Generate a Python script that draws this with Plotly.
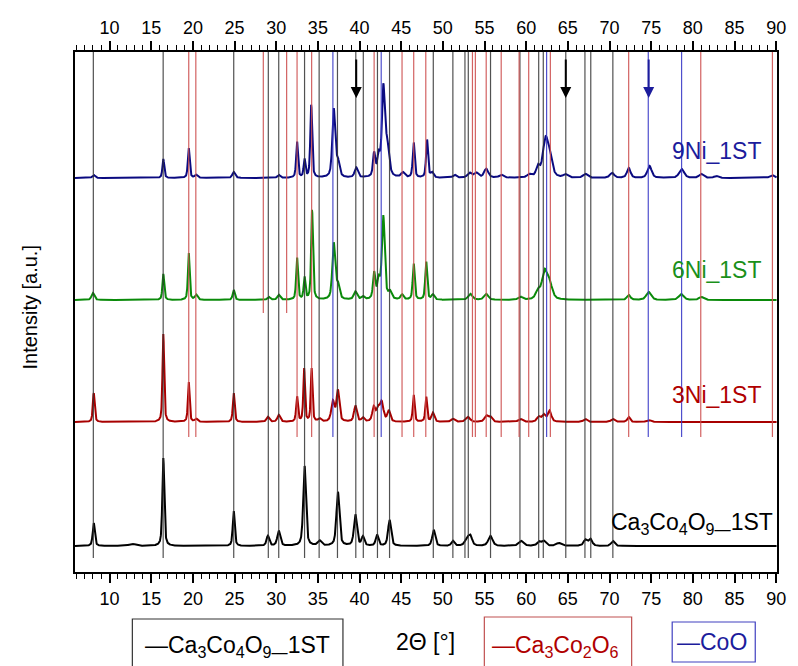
import numpy as np
import plotly.graph_objects as go

# ---------------- data ----------------
x_range = [5.85, 90.1]

# reference (PDF) line positions, 2-theta
ref_ca3co4o9 = [8.05, 16.43, 24.9, 29.05, 30.3, 33.4, 35.15, 37.35, 39.55, 40.45, 42.15, 43.6,
                48.85, 51.2, 52.65, 53.05, 55.72, 59.25, 61.5, 62.05, 64.75, 67.05, 67.75, 70.4]
ref_ca3co2o6 = [19.5, 20.35, 32.5, 34.25, 41.75, 45.1, 46.5, 47.95, 53.55, 53.9, 55.2, 57.0,
                59.15, 60.3, 62.9, 72.3, 80.95, 89.55]
ref_ca3co2o6_short = [28.45, 31.25]
ref_coo = [36.8, 42.6, 62.45, 74.65, 78.65]

# arrows
arrow_pos = [39.6, 64.75, 74.7]
arrow_col = ["#000000", "#000000", "#1c1c9c"]

# patterns: vertical offset, peak positions, heights, widths (FWHM)
off_ca = 26
pk_ca = [8.1, 12.7, 16.45, 24.9, 29.0, 30.3, 33.4, 35.2, 37.4, 39.5, 40.4, 42.1, 43.6, 48.9,
         51.2, 52.9, 53.3, 55.7, 59.4, 61.5, 62.1, 63.9, 67.1, 67.7, 70.4]
h_ca = [23, 2, 88, 35, 10, 15, 80, 5, 54, 31, 9, 11, 26, 16, 5, 7, 9, 10, 5, 4, 5, 3, 6, 7, 5]
w_ca = [0.3, 0.9, 0.28, 0.28, 0.38, 0.42, 0.38, 0.5, 0.42, 0.42, 0.38, 0.38, 0.42, 0.42, 0.42,
        0.6, 0.5, 0.6, 0.7, 0.5, 0.6, 0.7, 0.5, 0.5, 0.5]

off_3ni = 150
pk_3ni = [8.1, 16.45, 19.5, 20.4, 24.9, 29.0, 30.3, 32.5, 33.35, 34.25, 35.2, 36.8, 37.4, 39.5,
          40.4, 41.7, 42.2, 42.65, 43.5, 46.5, 48.0, 48.8, 51.2, 53.0, 55.2, 55.7, 59.3, 61.5,
          62.1, 62.8, 67.1, 70.4, 72.3, 74.7]
h_3ni = [29, 88, 40, 3, 29, 5, 7, 25, 53, 53, 3, 20, 31, 16, 4, 14, 12, 19, 11, 27, 25, 9, 3, 5,
         6, 5, 3, 5, 7, 11, 3, 3, 5, 2]
w_3ni = [0.26, 0.24, 0.24, 0.4, 0.26, 0.4, 0.4, 0.26, 0.24, 0.24, 0.4, 0.45, 0.4, 0.4, 0.4, 0.4,
         0.45, 0.5, 0.4, 0.26, 0.26, 0.4, 0.5, 0.6, 0.5, 0.5, 0.6, 0.5, 0.5, 0.5, 0.5, 0.5, 0.4,
         0.6]

off_6ni = 272
pk_6ni = [8.0, 16.45, 19.5, 20.4, 24.9, 29.1, 30.3, 32.5, 33.4, 34.3, 36.9, 37.4, 39.5, 40.4,
          41.75, 42.3, 42.85, 43.65, 45.1, 46.5, 48.0, 48.8, 53.3, 55.2, 59.3, 61.4, 62.2, 62.8,
          72.3, 74.7, 78.6, 81.0]
h_6ni = [7, 26, 47, 5, 10, 3, 5, 42, 22, 90, 56, 14, 8, 3, 26, 18, 83, 7, 5, 36, 38, 5, 6, 6, 3,
         8, 27, 15, 5, 8, 6, 3]
w_6ni = [0.4, 0.26, 0.24, 0.4, 0.3, 0.4, 0.4, 0.26, 0.26, 0.26, 0.4, 0.45, 0.45, 0.4, 0.32, 0.4,
         0.4, 0.45, 0.4, 0.28, 0.28, 0.4, 0.6, 0.6, 0.6, 0.6, 0.75, 0.75, 0.5, 0.7, 0.7, 0.6]

off_9ni = 394
pk_9ni = [8.1, 16.45, 19.5, 20.4, 24.9, 30.3, 32.5, 33.4, 34.2, 36.9, 37.4, 39.6, 41.75, 42.3,
          42.85, 43.3, 45.2, 46.5, 48.1, 48.7, 51.4, 53.2, 54.0, 55.2, 57.0, 60.4, 61.4, 62.3,
          62.8, 64.7, 67.1, 70.3, 72.3, 74.8, 78.65, 81.0, 82.8, 89.5]
h_9ni = [3, 19, 30, 3, 6, 3, 36, 18, 73, 68, 15, 10, 23, 20, 86, 32, 5, 35, 38, 5, 3, 5, 5, 9, 3,
         3, 10, 35, 18, 3, 4, 5, 10, 12, 9, 4, 2, 3]
w_9ni = [0.4, 0.26, 0.26, 0.4, 0.4, 0.4, 0.26, 0.26, 0.26, 0.4, 0.45, 0.45, 0.32, 0.4, 0.4, 0.55,
         0.5, 0.28, 0.28, 0.4, 0.5, 0.6, 0.6, 0.6, 0.6, 0.6, 0.5, 0.75, 0.75, 0.6, 0.6, 0.6, 0.5,
         0.6, 0.7, 0.6, 0.6, 0.6]

series_names = ["Ca3Co4O9_1ST", "3Ni_1ST", "6Ni_1ST", "9Ni_1ST"]
series_colors = ["#000000", "#a80000", "#0a8a0a", "#0a0a80"]

# ---------------- build ----------------
x = np.arange(x_range[0], 90.06, 0.02)


def profile(offset, pos, hts, wds):
    y = np.full_like(x, float(offset))
    for p, h, w in zip(pos, hts, wds):
        g = np.exp(-4 * np.log(2) * ((x - p) / w) ** 2)
        lz = 1.0 / (1.0 + 4 * ((x - p) / w) ** 2)
        y += h * (0.45 * g + 0.55 * lz)
    return y


def vlines(pos, y0, y1):
    xs, ys = [], []
    for p in pos:
        xs += [p, p, None]
        ys += [y0, y1, None]
    return xs, ys


fig = go.Figure()

# reference lines
for pos, y0, col in [(ref_ca3co4o9, 14, "rgba(50,50,50,0.85)"),
                     (ref_ca3co2o6, 135, "rgba(205,80,80,0.9)"),
                     (ref_ca3co2o6_short, 259, "rgba(205,80,80,0.9)"),
                     (ref_coo, 135, "rgba(60,60,200,0.9)")]:
    xs, ys = vlines(pos, y0, 520)
    fig.add_trace(go.Scatter(x=xs, y=ys, mode="lines", line=dict(color=col, width=1.2),
                             hoverinfo="skip", showlegend=False, xaxis="x2"))

for off, pk, h, w, nm, col in [(off_ca, pk_ca, h_ca, w_ca, series_names[0], series_colors[0]),
                               (off_3ni, pk_3ni, h_3ni, w_3ni, series_names[1], series_colors[1]),
                               (off_6ni, pk_6ni, h_6ni, w_6ni, series_names[2], series_colors[2]),
                               (off_9ni, pk_9ni, h_9ni, w_9ni, series_names[3], series_colors[3])]:
    fig.add_trace(go.Scatter(x=x, y=profile(off, pk, h, w), mode="lines", name=nm,
                             line=dict(color=col, width=2), showlegend=False))

FONT = "Arial, Liberation Sans, sans-serif"

tick_common = dict(range=x_range, tickmode="array", tickvals=list(range(10, 91, 5)),
                   ticks="outside", ticklen=9, tickwidth=1.5, tickcolor="black",
                   minor=dict(dtick=1, tick0=0, ticks="outside", ticklen=5, tickwidth=1.2,
                              tickcolor="black"),
                   showline=True, linecolor="black", linewidth=2, showgrid=False, zeroline=False,
                   tickfont=dict(family=FONT, size=18, color="black"))

fig.update_layout(
    width=798, height=666,
    margin=dict(l=75, r=13, t=52, b=94),
    paper_bgcolor="white", plot_bgcolor="white",
    xaxis=dict(**tick_common, side="bottom"),
    xaxis2=dict(**tick_common, side="top", overlaying="x", matches="x"),
    yaxis=dict(range=[0, 520], showticklabels=False, ticks="", showline=True, mirror=True,
               linecolor="black", linewidth=2, showgrid=False, zeroline=False),
)

ann = []
# arrows
for p, c in zip(arrow_pos, arrow_col):
    ann.append(dict(x=p, y=474, ax=p, ay=514, xref="x", yref="y", axref="x", ayref="y",
                    showarrow=True, arrowhead=2, arrowsize=1.1, arrowwidth=2, arrowcolor=c, text=""))

# series labels
lab = [("9Ni_1ST", 88.45, 421, "#1c1c9c", 23),
       ("6Ni_1ST", 88.45, 302, "#1a901a", 23),
       ("3Ni_1ST", 88.45, 177, "#b00000", 23),
       ("Ca<sub>3</sub>Co<sub>4</sub>O<sub>9—</sub>1ST", 89.85, 49, "#000000", 23)]
for t, xx, yy, c, s in lab:
    ann.append(dict(x=xx, y=yy, xref="x", yref="y", text=t, showarrow=False, xanchor="right",
                    yanchor="middle", font=dict(family=FONT, size=s, color=c)))

# y title
ann.append(dict(x=-0.083, y=0.51, xref="paper", yref="paper", text="Intensity [a.u.]",
                textangle=-90, showarrow=False, font=dict(family=FONT, size=20, color="black")))


# bottom legend-like boxes and axis title
def px(v):
    return (v - 75) / 710.0


def py(v):
    return (572 - v) / 520.0


ann.append(dict(x=px(144), y=py(646), xref="paper", yref="paper", xanchor="left", yanchor="middle",
                text="—Ca<sub>3</sub>Co<sub>4</sub>O<sub>9—</sub>1ST", showarrow=False,
                font=dict(family=FONT, size=23, color="black")))
ann.append(dict(x=px(429), y=py(642), xref="paper", yref="paper", xanchor="center",
                yanchor="middle", text="2Θ [°]", showarrow=False,
                font=dict(family=FONT, size=23, color="black")))
ann.append(dict(x=px(495), y=py(646), xref="paper", yref="paper", xanchor="left", yanchor="middle",
                text="—Ca<sub>3</sub>Co<sub>2</sub>O<sub>6</sub>", showarrow=False,
                font=dict(family=FONT, size=23, color="#b00000")))
ann.append(dict(x=px(682), y=py(642), xref="paper", yref="paper", xanchor="left", yanchor="middle",
                text="—CoO", showarrow=False, font=dict(family=FONT, size=23, color="#1c1c9c")))
fig.update_layout(annotations=ann)

shapes = [
    dict(type="rect", xref="paper", yref="paper", x0=px(133), x1=px(346), y0=py(619), y1=py(690),
         line=dict(color="#333333", width=1.2)),
    dict(type="rect", xref="paper", yref="paper", x0=px(489), x1=px(638), y0=py(617), y1=py(690),
         line=dict(color="#c05050", width=1.2)),
    dict(type="rect", xref="paper", yref="paper", x0=px(679), x1=px(763), y0=py(622), y1=py(662),
         line=dict(color="#4040c0", width=1.2)),
]
fig.update_layout(shapes=shapes)

fig.write_html("out.html")
